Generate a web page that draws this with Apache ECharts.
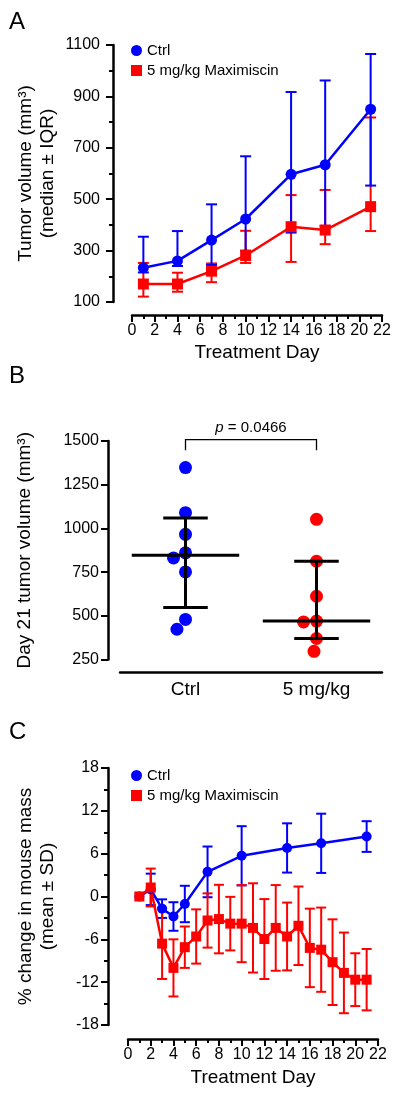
<!DOCTYPE html>
<html><head><meta charset="utf-8">
<script src="https://cdn.jsdelivr.net/npm/echarts@6/dist/echarts.min.js"></script>
<style>html,body{margin:0;padding:0;background:#fff}#c{width:400px;height:1097px}</style>
</head><body><div id="c"></div>
<script>
const FONT = '"Liberation Sans", Arial, Helvetica, sans-serif';
const BLUE = '#0000ff', RED = '#ff0000', BLACK = '#000';
const CTRL = 'Ctrl', MAXI = '5 mg/kg Maximiscin';

// ---- Panel A: tumor volume (median ± IQR)
const aDays = [1, 4, 7, 10, 14, 17, 21];
const aCtrlMedian = [233, 260, 341, 423, 597, 634, 850];
const aCtrlQ1 = [215, 240, 244, 300, 370, 396, 553];
const aCtrlQ3 = [354, 376, 480, 667, 917, 962, 1065];
const aMaxMedian = [170, 170, 220, 281, 393, 380, 471];
const aMaxQ1 = [121, 140, 177, 252, 256, 325, 376];
const aMaxQ3 = [252, 214, 250, 377, 516, 536, 818];

// ---- Panel B: day 21 tumor volume
const bCategories = ['Ctrl', '5 mg/kg'];
const bCtrlPoints = [1348, 1090, 966, 860, 831, 751, 479, 423];
const bMaxPoints = [1052, 812, 612, 470, 465, 370, 297];
const bMedian = [846, 470];
const bQ1 = [547, 370];
const bQ3 = [1060, 812];
const bPText = '0.0466';
const bBracketTop = 1508, bBracketFoot = 1447;

// ---- Panel C: % change in mouse mass (mean ± SD)
const cCtrlDays = [1, 2, 3, 4, 5, 7, 10, 14, 17, 21];
const cCtrlMean = [0, 1.0, -1.7, -2.8, -1.05, 3.45, 5.7, 6.8, 7.45, 8.4];
const cCtrlSD = [0, 2.2, 1.3, 2.0, 2.55, 3.55, 4.15, 3.45, 4.15, 2.15];
const cMaxDays = [1,2,3,4,5,6,7,8,9,10,11,12,13,14,15,16,17,18,19,20,21];
const cMaxMean = [0, 1.26, -6.6, -10.0, -7.1, -5.6, -3.36, -3.16, -3.8, -3.8, -4.4, -5.96, -4.4, -5.6, -4.1, -7.2, -7.45, -9.2, -10.7, -11.65, -11.65];
const cMaxSD = [0, 2.65, 4.95, 4.0, 2.9, 3.8, 3.8, 4.8, 3.75, 5.4, 6.25, 5.6, 6.0, 4.75, 5.5, 5.5, 5.9, 6.0, 5.65, 3.7, 4.3];

function errorBars(color, capHalf, lw) {
  return function (params, api) {
    const x = api.value(0), lo = api.value(1), hi = api.value(2);
    if (lo === hi) return null;
    const a = api.coord([x, lo]), b = api.coord([x, hi]);
    const st = { stroke: color, lineWidth: lw };
    return { type: 'group', children: [
      { type: 'line', shape: { x1: a[0], y1: a[1], x2: b[0], y2: b[1] }, style: st },
      { type: 'line', shape: { x1: a[0] - capHalf, y1: a[1], x2: a[0] + capHalf, y2: a[1] }, style: st },
      { type: 'line', shape: { x1: b[0] - capHalf, y1: b[1], x2: b[0] + capHalf, y2: b[1] }, style: st }
    ]};
  };
}

const plain = v => String(v);
function lbl(margin, size) {
  return { color: BLACK, fontSize: size || 16, fontFamily: FONT, margin: margin, formatter: plain };
}
function axisBase(extra) {
  return Object.assign({
    axisLine: { show: true, onZero: false, lineStyle: { color: BLACK, width: 2.5 } },
    axisTick: { show: true, length: 7, lineStyle: { color: BLACK, width: 2 } },
    splitLine: { show: false },
    nameMoveOverlap: false,
    nameTextStyle: { color: BLACK, fontSize: 19, fontFamily: FONT, lineHeight: 22 }
  }, extra);
}
const minor = { show: true, splitNumber: 2, length: 4, lineStyle: { color: BLACK, width: 2 } };

const aCtrlErr = aDays.map((d, i) => [d, aCtrlQ1[i], aCtrlQ3[i]]);
const aMaxErr = aDays.map((d, i) => [d, aMaxQ1[i], aMaxQ3[i]]);
const cCtrlErr = cCtrlDays.map((d, i) => [d, cCtrlMean[i] - cCtrlSD[i], cCtrlMean[i] + cCtrlSD[i]]);
const cMaxErr = cMaxDays.map((d, i) => [d, cMaxMean[i] - cMaxSD[i], cMaxMean[i] + cMaxSD[i]]);

const chart = echarts.init(document.getElementById('c'), null, { renderer: 'canvas' });
const titleStyle = { fontSize: 24, fontWeight: 'normal', color: BLACK, fontFamily: FONT };
const legendBase = { orient: 'vertical', left: 131, padding: 0, itemGap: 5, itemWidth: 11, itemHeight: 11,
  textStyle: { fontSize: 15, color: BLACK, fontFamily: FONT },
  data: [{ name: CTRL, icon: 'circle' }, { name: MAXI, icon: 'rect' }] };
const option = {
  animation: false,
  backgroundColor: '#fff',
  textStyle: { fontFamily: FONT },
  title: [
    { text: 'A', left: 9, top: 10, padding: 0, textStyle: titleStyle },
    { text: 'B', left: 9, top: 364, padding: 0, textStyle: titleStyle },
    { text: 'C', left: 9, top: 720, padding: 0, textStyle: titleStyle }
  ],
  legend: [
    Object.assign({ top: 43 }, legendBase),
    Object.assign({ top: 768 }, legendBase)
  ],
  grid: [
    { left: 132, top: 45, width: 250, height: 257 },
    { left: 120, top: 441, width: 262, height: 218.5 },
    { left: 128, top: 768, width: 250, height: 257 }
  ],
  xAxis: [
    axisBase({ gridIndex: 0, type: 'value', min: 0, max: 22, interval: 2, offset: 13, minorTick: minor,
      axisLabel: lbl(8), name: 'Treatment Day', nameLocation: 'middle', nameGap: 27 }),
    axisBase({ gridIndex: 1, type: 'category', data: bCategories, offset: 13,
      jitter: 28, jitterOverlap: false, jitterMargin: 0,
      axisTick: { show: false },
      axisLabel: { color: BLACK, fontSize: 19, fontFamily: FONT, margin: 8 } }),
    axisBase({ gridIndex: 2, type: 'value', min: 0, max: 22, interval: 2, offset: 14, minorTick: minor,
      axisLabel: lbl(8), name: 'Treatment Day', nameLocation: 'middle', nameGap: 28 })
  ],
  yAxis: [
    axisBase({ gridIndex: 0, type: 'value', min: 100, max: 1100, interval: 200, offset: 19, minorTick: minor,
      axisLabel: lbl(13),
      name: 'Tumor volume (mm³)\n(median ± IQR)', nameLocation: 'middle', nameRotate: 90, nameGap: 54 }),
    axisBase({ gridIndex: 1, type: 'value', min: 250, max: 1500, interval: 250, offset: 12,
      axisLabel: lbl(9),
      name: 'Day 21 tumor volume (mm³)', nameLocation: 'middle', nameRotate: 90, nameGap: 72 }),
    axisBase({ gridIndex: 2, type: 'value', min: -18, max: 18, interval: 6, offset: 20, minorTick: minor,
      axisLabel: lbl(9),
      name: '% change in mouse mass\n(mean ± SD)', nameLocation: 'middle', nameRotate: 90, nameGap: 49 })
  ],
  series: [
    // Panel A
    { type: 'custom', xAxisIndex: 0, yAxisIndex: 0, data: aMaxErr, encode: { x: 0, y: [1, 2] },
      renderItem: errorBars(RED, 5.5, 2), clip: false },
    { type: 'line', name: MAXI, xAxisIndex: 0, yAxisIndex: 0, data: aDays.map((d, i) => [d, aMaxMedian[i]]),
      symbol: 'rect', symbolSize: 11, itemStyle: { color: RED }, lineStyle: { color: RED, width: 2.5 } },
    { type: 'custom', xAxisIndex: 0, yAxisIndex: 0, data: aCtrlErr, encode: { x: 0, y: [1, 2] },
      renderItem: errorBars(BLUE, 5.5, 2), clip: false },
    { type: 'line', name: CTRL, xAxisIndex: 0, yAxisIndex: 0, data: aDays.map((d, i) => [d, aCtrlMedian[i]]),
      symbol: 'circle', symbolSize: 11, itemStyle: { color: BLUE }, lineStyle: { color: BLUE, width: 2.5 } },

    // Panel B
    { type: 'scatter', xAxisIndex: 1, yAxisIndex: 1, data: bCtrlPoints.map(v => [0, v]),
      symbol: 'circle', symbolSize: 13, itemStyle: { color: BLUE, opacity: 1 } },
    { type: 'scatter', xAxisIndex: 1, yAxisIndex: 1, data: bMaxPoints.map(v => [1, v]),
      symbol: 'circle', symbolSize: 13, itemStyle: { color: RED, opacity: 1 } },
    { type: 'custom', xAxisIndex: 1, yAxisIndex: 1, z: 5,
      data: bMedian.map((m, i) => [i, m, bQ1[i], bQ3[i]]), encode: { x: 0, y: [1, 2, 3] },
      renderItem: function (params, api) {
        const i = api.value(0);
        const band = api.size([1, 0])[0];
        const m = api.coord([i, api.value(1)]);
        const lo = api.coord([i, api.value(2)]);
        const hi = api.coord([i, api.value(3)]);
        const st = { stroke: BLACK, lineWidth: 3 };
        const mh = band * 0.41, ch = band * 0.17;
        return { type: 'group', children: [
          { type: 'line', shape: { x1: m[0] - mh, y1: m[1], x2: m[0] + mh, y2: m[1] }, style: st },
          { type: 'line', shape: { x1: lo[0], y1: lo[1], x2: hi[0], y2: hi[1] }, style: st },
          { type: 'line', shape: { x1: lo[0] - ch, y1: lo[1], x2: lo[0] + ch, y2: lo[1] }, style: st },
          { type: 'line', shape: { x1: hi[0] - ch, y1: hi[1], x2: hi[0] + ch, y2: hi[1] }, style: st }
        ]};
      } },
    { type: 'custom', xAxisIndex: 1, yAxisIndex: 1, z: 5, clip: false,
      data: [[0, 1, bBracketTop, bBracketFoot]], encode: { x: [0, 1], y: [2, 3] },
      renderItem: function (params, api) {
        const l0 = api.coord([api.value(0), api.value(3)]);
        const l1 = api.coord([api.value(0), api.value(2)]);
        const r1 = api.coord([api.value(1), api.value(2)]);
        const r0 = api.coord([api.value(1), api.value(3)]);
        return { type: 'group', children: [
          { type: 'polyline', shape: { points: [l0, l1, r1, r0] }, style: { stroke: BLACK, lineWidth: 1.3, fill: null } },
          { type: 'text', style: { text: '{i|p} = ' + bPText, x: (l1[0] + r1[0]) / 2, y: l1[1] - 4,
              align: 'center', verticalAlign: 'bottom', fill: BLACK, font: '15px ' + FONT,
              rich: { i: { fontStyle: 'italic', fontSize: 15, fontFamily: FONT, fill: BLACK } } } }
        ]};
      } },

    // Panel C
    { type: 'custom', xAxisIndex: 2, yAxisIndex: 2, data: cCtrlErr, encode: { x: 0, y: [1, 2] },
      renderItem: errorBars(BLUE, 5, 2), clip: false },
    { type: 'line', name: CTRL, xAxisIndex: 2, yAxisIndex: 2, data: cCtrlDays.map((d, i) => [d, cCtrlMean[i]]),
      symbol: 'circle', symbolSize: 10, itemStyle: { color: BLUE }, lineStyle: { color: BLUE, width: 2.5 } },
    { type: 'custom', xAxisIndex: 2, yAxisIndex: 2, data: cMaxErr, encode: { x: 0, y: [1, 2] },
      renderItem: errorBars(RED, 5, 2), clip: false },
    { type: 'line', name: MAXI, xAxisIndex: 2, yAxisIndex: 2, data: cMaxDays.map((d, i) => [d, cMaxMean[i]]),
      symbol: 'rect', symbolSize: 10, itemStyle: { color: RED }, lineStyle: { color: RED, width: 2.5 } }
  ]
};
chart.setOption(option);
</script></body></html>
